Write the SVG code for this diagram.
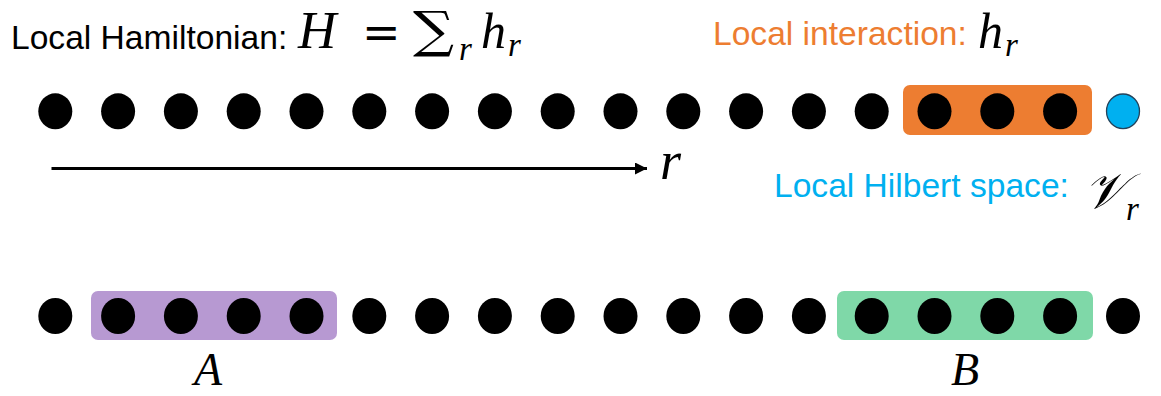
<svg xmlns="http://www.w3.org/2000/svg" width="1161" height="396" viewBox="0 0 1161 396">
<style>
.dot{fill:#000}
.site{fill:#00B0F0;stroke:#24425a;stroke-width:1.3}
.lbl{font-family:"Liberation Sans",Arial,sans-serif;font-size:33.6px}
.math{font-family:"Liberation Serif","Times New Roman",serif;font-style:italic}
.up{font-family:"DejaVu Serif",serif;font-style:normal}
.box{stroke:none}
</style>
<defs>
<marker id="ah" viewBox="0 0 10 10" refX="10" refY="5" markerWidth="4.5" markerHeight="4" orient="auto" markerUnits="strokeWidth">
<path d="M0,0 L10,5 L0,10 z" fill="#000"/>
</marker>
<ellipse id="d" cx="0" cy="0" rx="17" ry="18"/>
</defs>
<rect width="1161" height="396" fill="#fff"/>

<g id="title-hamiltonian">
<text class="lbl" x="11" y="49" fill="#000">Local Hamiltonian:</text>
<text class="math" font-size="53" x="298" y="48">H</text>
<text class="up" font-size="46" x="362" y="48">=</text>
<text class="up" font-size="50" x="0" y="0" transform="translate(413,47) scale(1.15,1)">∑</text>
<text class="math" font-size="33" x="459" y="60">r</text>
<text class="math" font-size="50" x="481" y="48">h</text>
<text class="math" font-size="33" x="508" y="56">r</text>
</g>

<g id="label-interaction">
<text class="lbl" x="713" y="45" fill="#ED7D31">Local interaction:</text>
<text class="math" font-size="50" x="978" y="48">h</text>
<text class="math" font-size="33" x="1005" y="56">r</text>
</g>

<g id="label-hilbert">
<text class="lbl" x="774" y="197" fill="#00B0F0">Local Hilbert space:</text>
<text class="math" font-size="50" x="1084" y="208">𝒱</text>
<text class="math" font-size="33" x="1126" y="220">r</text>
</g>

<g id="interaction-box"><rect class="box" x="903" y="85" width="189" height="50" rx="7" fill="#ED7D31"/></g>
<g id="region-A-box"><rect class="box" x="91" y="291" width="246" height="49" rx="7" fill="#B799D2"/></g>
<g id="region-B-box"><rect class="box" x="837" y="291" width="256" height="49" rx="7" fill="#7FD8A8"/></g>

<g id="top-row">
<g id="t1"><use href="#d" class="dot" x="55.3" y="111.3"/></g>
<g id="t2"><use href="#d" class="dot" x="118.1" y="111.3"/></g>
<g id="t3"><use href="#d" class="dot" x="180.9" y="111.3"/></g>
<g id="t4"><use href="#d" class="dot" x="243.7" y="111.3"/></g>
<g id="t5"><use href="#d" class="dot" x="306.5" y="111.3"/></g>
<g id="t6"><use href="#d" class="dot" x="369.3" y="111.3"/></g>
<g id="t7"><use href="#d" class="dot" x="432.1" y="111.3"/></g>
<g id="t8"><use href="#d" class="dot" x="494.9" y="111.3"/></g>
<g id="t9"><use href="#d" class="dot" x="557.7" y="111.3"/></g>
<g id="t10"><use href="#d" class="dot" x="620.5" y="111.3"/></g>
<g id="t11"><use href="#d" class="dot" x="683.3" y="111.3"/></g>
<g id="t12"><use href="#d" class="dot" x="746.1" y="111.3"/></g>
<g id="t13"><use href="#d" class="dot" x="808.9" y="111.3"/></g>
<g id="t14"><use href="#d" class="dot" x="871.7" y="111.3"/></g>
<g id="t15"><use href="#d" class="dot" x="934.5" y="111.3"/></g>
<g id="t16"><use href="#d" class="dot" x="997.3" y="111.3"/></g>
<g id="t17"><use href="#d" class="dot" x="1060.1" y="111.3"/></g>
<g id="t18"><ellipse class="site" cx="1123" cy="111.3" rx="16.5" ry="17.3"/></g>
</g>

<g id="bottom-row">
<g id="b1"><use href="#d" class="dot" x="55.3" y="316"/></g>
<g id="b2"><use href="#d" class="dot" x="118.1" y="316"/></g>
<g id="b3"><use href="#d" class="dot" x="180.9" y="316"/></g>
<g id="b4"><use href="#d" class="dot" x="243.7" y="316"/></g>
<g id="b5"><use href="#d" class="dot" x="306.5" y="316"/></g>
<g id="b6"><use href="#d" class="dot" x="369.3" y="316"/></g>
<g id="b7"><use href="#d" class="dot" x="432.1" y="316"/></g>
<g id="b8"><use href="#d" class="dot" x="494.9" y="316"/></g>
<g id="b9"><use href="#d" class="dot" x="557.7" y="316"/></g>
<g id="b10"><use href="#d" class="dot" x="620.5" y="316"/></g>
<g id="b11"><use href="#d" class="dot" x="683.3" y="316"/></g>
<g id="b12"><use href="#d" class="dot" x="746.1" y="316"/></g>
<g id="b13"><use href="#d" class="dot" x="808.9" y="316"/></g>
<g id="b14"><use href="#d" class="dot" x="871.7" y="316"/></g>
<g id="b15"><use href="#d" class="dot" x="934.5" y="316"/></g>
<g id="b16"><use href="#d" class="dot" x="997.3" y="316"/></g>
<g id="b17"><use href="#d" class="dot" x="1060.1" y="316"/></g>
<g id="b18"><use href="#d" class="dot" x="1123" y="316"/></g>
</g>

<g id="label-A"><text class="math" font-size="46" x="194" y="385">A</text></g>
<g id="label-B"><text class="math" font-size="46" x="951" y="385">B</text></g>

<g id="connectors">
<line x1="51.5" y1="168.5" x2="647" y2="168.5" stroke="#000" stroke-width="3" marker-end="url(#ah)"/>
<text class="math" font-size="54" x="660" y="179">r</text>
</g>
</svg>
